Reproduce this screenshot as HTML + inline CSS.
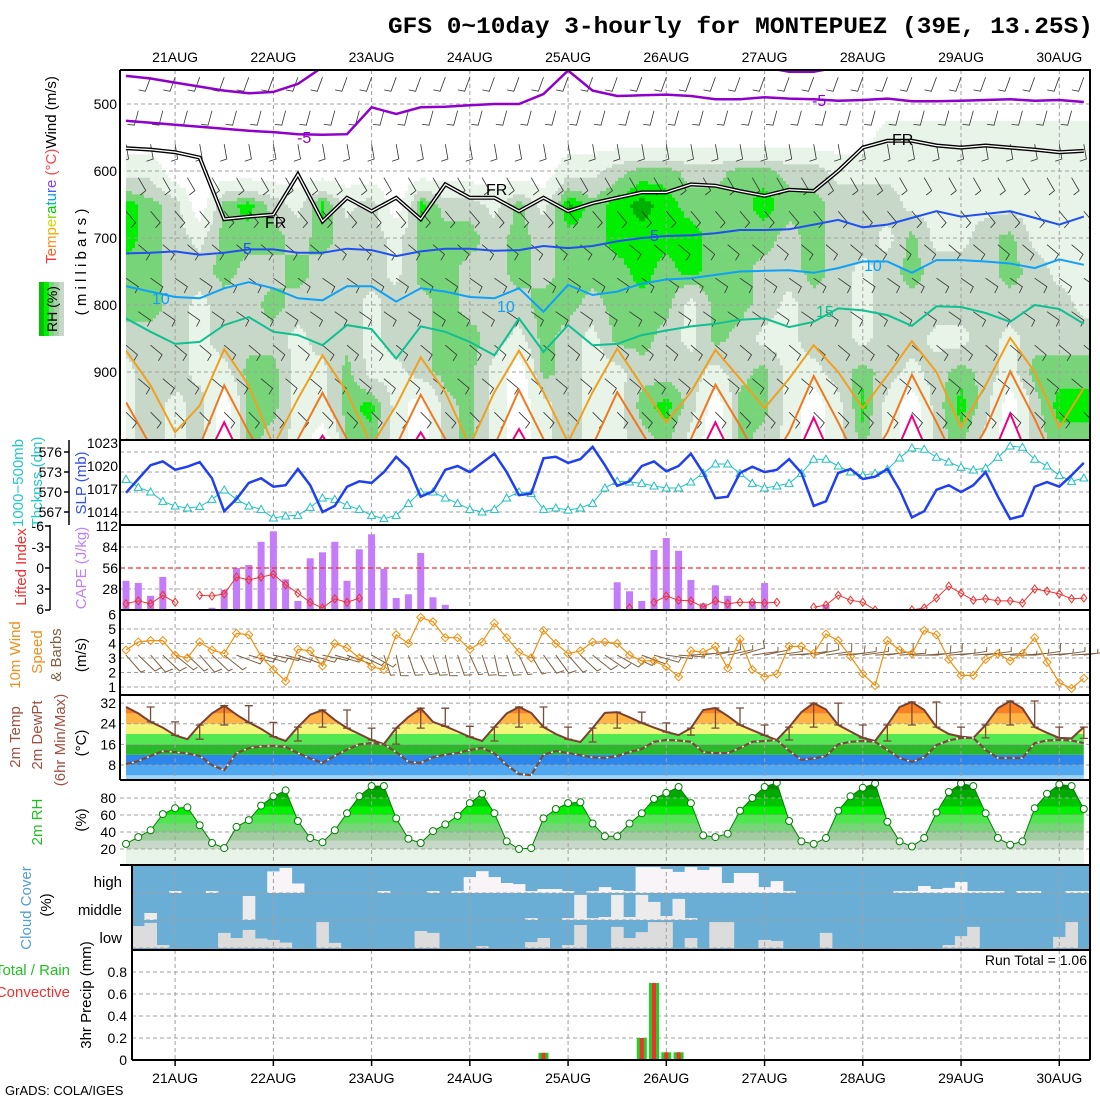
<!DOCTYPE html>
<html><head><meta charset="utf-8"><title>GFS meteogram MONTEPUEZ</title>
<style>html,body{margin:0;padding:0;background:#fff}svg{display:block}text{font-family:"Liberation Sans",sans-serif}</style>
</head><body>
<svg id="chart" xmlns="http://www.w3.org/2000/svg" width="1100" height="1100" viewBox="0 0 1100 1100">
<rect x="0" y="0" width="1100" height="1100" fill="#fff"/>
<text x="388" y="33" textLength="705" lengthAdjust="spacingAndGlyphs" style="font-family:'Liberation Mono',monospace;font-size:23px;font-weight:bold">GFS 0~10day 3-hourly for MONTEPUEZ (39E, 13.25S)</text>
<g id="lbl" font-size="15">
<text transform="translate(56,170) rotate(-90)" text-anchor="middle"><tspan fill="#ff3030">T</tspan><tspan fill="#ff6020">e</tspan><tspan fill="#ff9020">m</tspan><tspan fill="#f0b000">p</tspan><tspan fill="#d8d800">e</tspan><tspan fill="#80d800">r</tspan><tspan fill="#00c800">a</tspan><tspan fill="#00c0a0">t</tspan><tspan fill="#00a0e0">u</tspan><tspan fill="#4060ff">r</tspan><tspan fill="#8040ff">e</tspan><tspan fill="#ff4040"> (°C)</tspan><tspan fill="#000">Wind (m/s)</tspan></text>
<g><rect x="39" y="282" width="5" height="54" fill="#00c000"/><rect x="44" y="282" width="5" height="54" fill="#00f000"/><rect x="49" y="282" width="5" height="54" fill="#78d878"/><rect x="54" y="282" width="5" height="54" fill="#a8d0a8"/><rect x="59" y="282" width="5" height="54" fill="#c8d8c8"/>
<text transform="translate(57,309) rotate(-90)" text-anchor="middle" font-size="14">RH (%)</text></g>
<text transform="translate(86,262) rotate(-90)" text-anchor="middle">( m i l l i b a r s )</text>
<text transform="translate(23,483) rotate(-90)" text-anchor="middle" fill="#20c8c8">1000−500mb</text>
<text transform="translate(42,482) rotate(-90)" text-anchor="middle" fill="#20c8c8">Thcknss (dm)</text>
<text transform="translate(86,483) rotate(-90)" text-anchor="middle" fill="#3050f0">SLP (mb)</text>
<text transform="translate(26,567) rotate(-90)" text-anchor="middle" fill="#f03030">Lifted Index</text>
<text transform="translate(86,568) rotate(-90)" text-anchor="middle" fill="#c080f8">CAPE (J/kg)</text>
<text transform="translate(20,655) rotate(-90)" text-anchor="middle" fill="#f09020">10m Wind</text>
<text transform="translate(42,652) rotate(-90)" text-anchor="middle" fill="#f09020">Speed</text>
<text transform="translate(61,655) rotate(-90)" text-anchor="middle" fill="#806040">&amp; Barbs</text>
<text transform="translate(86,655) rotate(-90)" text-anchor="middle">(m/s)</text>
<text transform="translate(20,737) rotate(-90)" text-anchor="middle" fill="#a05040">2m Temp</text>
<text transform="translate(42,735) rotate(-90)" text-anchor="middle" fill="#a05040">2m DewPt</text>
<text transform="translate(65,740) rotate(-90)" text-anchor="middle" fill="#a05040">(6hr Min/Max)</text>
<text transform="translate(86,743) rotate(-90)" text-anchor="middle">(°C)</text>
<text transform="translate(42,822) rotate(-90)" text-anchor="middle" fill="#20c020">2m RH</text>
<text transform="translate(86,820) rotate(-90)" text-anchor="middle">(%)</text>
<text transform="translate(31,908) rotate(-90)" text-anchor="middle" fill="#50a0d0">Cloud Cover</text>
<text transform="translate(51,905) rotate(-90)" text-anchor="middle">(%)</text>
<text x="122" y="887" text-anchor="end">high</text>
<text x="122" y="915" text-anchor="end">middle</text>
<text x="122" y="943" text-anchor="end">low</text>
<text x="70" y="975" text-anchor="end" fill="#20c020">Total / Rain</text>
<text x="70" y="997" text-anchor="end" fill="#f03030">Convective</text>
<text transform="translate(91,995) rotate(-90)" text-anchor="middle">3hr Precip (mm)</text>
<text x="1087" y="965" text-anchor="end" font-size="14">Run Total = 1.06</text>
<text x="5" y="1095" font-size="13">GrADS: COLA/IGES</text>
</g>
<defs><clipPath id="cpU"><rect x="126" y="70" width="964" height="370"/></clipPath>
<clipPath id="cp3"><rect x="120" y="525" width="970" height="85"/></clipPath></defs>
</svg>
<script>
// ---------- data ----------
const dayLabels=['21AUG','22AUG','23AUG','24AUG','25AUG','26AUG','27AUG','28AUG','29AUG','30AUG'];
const slp=[1016.5,1018.3,1020.1,1020.6,1019.5,1019.9,1020.5,1018.4,1014.1,1015.7,1017.8,1018.4,1017.3,1017.5,1019.6,1017.5,1014.0,1014.8,1017.3,1018.0,1017.8,1019.2,1021.2,1019.7,1016.0,1016.7,1019.5,1020.0,1019.2,1020.4,1021.6,1019.2,1016.2,1016.4,1021.0,1021.2,1020.4,1020.9,1022.5,1020.1,1017.4,1018.0,1020.0,1020.6,1019.3,1020.0,1021.6,1019.1,1015.8,1016.0,1019.1,1019.9,1019.2,1019.5,1020.9,1019.1,1014.8,1015.4,1019.1,1019.6,1018.3,1018.6,1019.6,1016.9,1013.3,1014.1,1016.9,1017.5,1016.6,1017.5,1019.2,1016.0,1013.1,1013.5,1017.3,1017.9,1017.3,1018.8,1020.4];
const thickness=[571.9,570.7,570.0,568.6,567.9,567.6,567.8,568.9,570.3,568.9,567.9,567.4,566.1,566.4,566.5,567.7,569.1,568.9,568.0,567.4,566.5,566.0,566.5,568.3,570.0,570.0,569.1,568.3,567.4,567.0,567.4,569.1,570.0,569.8,567.4,567.6,567.3,567.6,568.3,570.6,571.6,571.5,571.3,570.9,570.6,570.6,571.5,572.8,574.2,574.2,572.8,571.3,570.6,570.9,571.3,572.8,574.9,574.9,573.9,573.0,572.5,572.8,573.4,575.1,576.6,576.4,575.2,574.5,573.7,573.3,573.6,575.2,576.9,576.7,574.9,573.9,572.5,571.6,572.1];
const cape=[39,36,19,44,0,0,0,3,27,56,60,91,105,41,12,69,77,91,39,81,101,55,16,21,76,17,7,0,0,0,0,0,0,0,0,0,0,0,0,0,37,25,12,80,96,79,40,9,33,19,0,12,36,0,0,0,0,7,0,0,0,0,0,0,0,0,0,0,0,0,0,0,0,0,0,0,0,0,0];
const liftedIndex=[5.1,4.7,5.1,3.9,4.9,null,3.9,4.0,3.7,1.3,1.7,1.3,0.9,2.4,3.6,4.9,5.7,4.4,4.9,4.3,null,null,null,null,null,null,null,null,null,null,null,null,null,null,null,null,null,null,null,null,null,5.7,null,4.9,4.0,4.6,4.7,5.6,4.7,5.1,4.9,4.9,5.0,4.9,null,null,5.6,5.3,3.9,4.6,4.9,6.0,null,null,6.0,5.7,4.3,2.6,3.6,4.6,4.4,4.7,4.7,5.0,3.0,3.3,3.7,4.4,4.3];
const windSpeed=[3.55,4.1,4.2,4.2,3.2,3.0,4.1,3.55,3.3,4.7,4.6,3.1,2.2,1.4,3.6,3.5,2.45,4.0,3.7,3.0,2.4,2.2,4.6,4.0,5.8,5.5,4.4,4.4,3.6,4.1,5.4,4.4,3.4,3.0,4.9,4.0,3.3,3.5,4.1,4.1,4.0,3.2,2.8,2.8,2.4,1.7,3.5,3.4,3.8,2.3,4.3,2.2,1.7,1.9,3.8,3.8,3.3,4.65,4.2,3.1,1.9,1.1,4.2,3.55,3.3,4.9,4.6,2.9,1.8,1.8,2.9,3.3,2.8,3.3,4.4,2.7,1.3,0.9,1.6];
const windDir=[145,140,145,140,135,140,145,140,135,115,110,110,105,110,115,110,105,110,115,120,125,165,170,165,160,165,170,165,160,165,170,165,160,155,150,150,145,140,135,130,125,120,115,110,100,95,85,80,75,75,70,80,75,80,85,80,75,80,85,80,80,85,80,85,90,85,80,85,80,85,80,85,90,85,80,85,80,85,80];
const temp2m=[30.5,28,24.7,22.5,19.5,18,23.5,28,31,27.5,24.5,22,19,17.3,22.7,27.5,29.3,25.5,22.3,20,17.7,16.1,22.3,26.6,30,24.7,23,21,18.9,17.3,22.7,28,30.5,28.2,22.7,20,18,16.9,22.3,28.2,28.5,26.5,24.3,22.5,20.8,19.6,22.3,29.3,30.1,27,23.5,21.5,19.5,17.7,22.7,28.5,32,29.5,23.5,21,18.5,17.3,23.5,30.5,32.4,29.3,22.7,20,19,18.5,23.5,30,32.8,30,22.7,20.5,18.5,18.3,22.7];
const dewpt2m=[8.4,9.5,11.5,13.4,13,12.5,11.5,8,6,12.6,14.5,15.2,15.4,15,12.6,10.5,8.8,11.5,14,16,16.5,16,13,9.2,8.8,11,12,12.6,13.8,14.6,12.5,8,4.5,4.1,12,13.4,12.6,11.8,11,10.7,11.5,13,14.2,17,17.7,17.5,17,13,12.6,12.6,14.6,17,17.3,17.7,13.5,10,10.5,11.5,16,17,17.3,17,13.8,10.7,9.2,11,15.7,17.5,18.5,18.5,13.8,10.7,10.7,10.7,16.5,17.5,17.7,17.5,16.5];
const rh2m=[26,34,42,61,68,69,48,27,21,46,54,71,82,89,53,33,28,42,62,82,94,94,56,32,27,41,49,59,74,85,62,29,20,21,56,67,74,75,50,35,35,50,62,79,86,93,74,36,34,38,65,80,93,98,53,29,26,33,65,82,92,97,52,29,23,33,63,87,97,94,62,33,25,29,68,85,96,94,67];
const cloudLow=[81,81,93,11,0,0,0,0,56,37,67,35,30,20,0,0,96,19,0,0,0,0,0,0,63,56,0,0,0,7,0,0,0,22,37,0,11,85,0,0,78,37,59,96,96,0,37,0,96,96,0,0,30,26,0,0,0,56,0,0,0,0,0,0,0,0,0,11,44,78,0,0,0,0,0,0,41,96,0];
const cloudMid=[0,0,26,0,0,0,0,0,0,0,89,0,0,0,0,0,0,0,0,0,0,0,0,0,0,0,0,0,0,0,0,0,0,7,0,0,7,93,7,11,93,11,93,67,15,78,7,0,0,0,0,0,0,0,0,0,0,0,0,0,0,0,0,0,0,0,0,0,0,0,0,0,0,0,0,0,0,0,0];
const cloudHigh=[0,0,0,0,7,0,0,7,0,0,0,0,80,93,35,0,0,0,0,0,0,7,0,0,0,7,0,7,59,81,59,37,33,7,15,15,7,0,7,22,11,7,96,96,89,78,96,85,96,37,74,74,22,44,7,0,0,0,0,0,0,0,0,7,7,26,15,19,41,7,7,7,0,7,7,0,0,7,7];
const precipTotal=[0,0,0,0,0,0,0,0,0,0,0,0,0,0,0,0,0,0,0,0,0,0,0,0,0,0,0,0,0,0,0,0,0,0,0.065,0,0,0,0,0,0,0,0.2,0.7,0.07,0.07,0,0,0,0,0,0,0,0,0,0,0,0,0,0,0,0,0,0,0,0,0,0,0,0,0,0,0,0,0,0,0,0,0];
const precipConv=[0,0,0,0,0,0,0,0,0,0,0,0,0,0,0,0,0,0,0,0,0,0,0,0,0,0,0,0,0,0,0,0,0,0,0.065,0,0,0,0,0,0,0,0.2,0.7,0.07,0.07,0,0,0,0,0,0,0,0,0,0,0,0,0,0,0,0,0,0,0,0,0,0,0,0,0,0,0,0,0,0,0,0,0];
const levels=[450,500,550,600,650,700,750,800,850,900,950,1000];
const rh450=[30,30,30,30,30,30,30,30,30,30,30,30,30,30,30,30,30,30,30,30,30,30,30,30,30,30,30,30,30,30,30,30,30,30,30,30,30,30,30,30];
const rh500=[30,30,30,30,30,30,30,30,30,30,30,30,30,30,30,30,30,30,30,30,30,30,30,30,30,30,30,30,30,30,30,30,30,30,30,30,30,30,30,30];
const rh550=[30,30,30,30,30,30,30,30,30,30,30,30,30,30,30,30,30,30,30,30,30,30,30,30,30,30,30,30,30,30,30,60,60,60,60,60,60,60,60,60];
const rh600=[60,60,30,30,30,30,30,30,30,30,30,30,30,30,30,30,30,30,60,60,75,85,85,75,75,85,85,75,75,60,60,60,60,60,60,60,60,60,60,60];
const rh650=[93,85,75,30,85,93,75,60,93,60,75,30,93,75,75,60,85,60,98,85,93,98,93,85,85,85,93,85,85,75,75,75,60,60,60,60,60,60,60,60];
const rh700=[93,85,75,60,85,85,85,75,85,75,75,60,85,85,85,75,85,75,85,85,93,93,93,93,85,85,85,75,85,75,75,60,85,60,60,75,85,60,60,60];
const rh750=[85,85,75,75,85,75,75,85,75,75,75,60,85,85,75,75,85,75,85,85,85,93,85,93,85,85,75,75,85,75,60,75,85,75,75,75,85,75,60,60];
const rh800=[85,85,75,60,75,75,85,75,75,75,60,75,75,85,75,75,75,85,85,75,85,85,85,60,85,85,75,60,75,75,60,75,75,75,75,75,75,75,75,60];
const rh850=[75,75,75,60,75,75,75,60,75,75,60,75,75,85,85,75,60,85,75,60,85,85,75,60,85,75,60,60,75,75,60,75,75,60,60,75,60,75,75,75];
const rh900=[60,75,75,60,60,85,85,60,60,85,60,60,75,85,85,60,30,85,75,60,60,75,75,75,60,75,85,60,60,75,85,75,60,75,85,75,60,85,85,85];
const rh950=[60,75,60,75,30,85,85,60,60,85,93,60,30,75,85,60,30,60,75,60,60,85,93,75,30,85,85,60,30,60,93,60,30,75,93,75,30,75,93,93];
const rh1000=[60,75,60,75,30,85,75,60,30,85,85,60,30,75,85,60,30,60,75,60,60,75,85,60,30,85,75,60,30,60,85,60,30,75,85,60,30,75,85,85];
const isoM10=[458,462,468,474,480,484,482,470,445,440,440,440,440,440,440,440,440,440,440,440,440,440,440,440,440,440,445,452,452,445,440,440,440,440,440,440,440,440,440,440];
const isoM5=[525,528,531,534,537,540,542,545,546,545,505,515,505,504,502,500,500,485,450,480,488,487,486,488,493,493,490,492,493,495,494,492,496,496,495,494,493,495,494,497];
const iso0=[566,568,572,580,672,668,665,605,675,640,660,640,672,620,640,640,660,640,660,648,640,632,632,620,622,630,637,628,630,600,565,555,555,562,565,562,565,568,572,570];
const iso5=[723,722,720,725,722,717,717,722,722,716,718,727,720,716,716,719,718,712,715,712,705,700,697,696,693,688,688,687,680,673,684,680,670,660,668,664,660,670,680,668];
const iso10=[772,780,788,790,775,766,775,790,793,772,772,795,775,780,788,790,775,810,770,785,780,768,762,760,755,750,749,748,752,745,735,735,752,733,733,735,738,745,732,740];
const iso15=[820,840,858,855,830,818,840,845,860,830,836,880,832,840,855,875,820,870,830,860,858,845,838,832,828,822,820,833,825,805,808,815,831,802,803,812,825,800,806,828];
const iso20=[868,920,990,950,866,920,1010,940,875,930,1010,950,878,930,1010,930,868,930,1005,930,865,920,975,930,867,910,954,910,860,900,954,905,854,900,983,920,849,900,983,924];
const iso25=[945,1010,1050,1010,920,990,1050,1000,931,1000,1050,1010,934,1000,1050,1010,927,1000,1050,1010,930,990,1050,1000,919,980,1050,990,906,975,1050,990,904,975,1050,985,899,970,1050,1000];
const iso30=[1000,1050,1050,1050,975,1050,1050,1050,995,1050,1050,1050,990,1050,1050,1050,985,1050,1050,1050,1050,1050,1050,1050,975,1050,1050,1050,968,1050,1050,1050,965,1050,1050,1050,962,1050,1050,1050];
const barbLevels=[460,510,560,610,660,710,760,810,860,910,960];
const barbLevelDir=[200,195,170,150,140,130,125,125,130,130,135];

// ---------- scales ----------
const NS='http://www.w3.org/2000/svg';
const svg=document.getElementById('chart');
function add(tag,attrs,parent){const e=document.createElementNS(NS,tag);for(const k in attrs)e.setAttribute(k,attrs[k]);(parent||svg).appendChild(e);return e;}
const xs=s=>126+s*12.28;
const xc=c=>xs(2*c);
const yP=p=>104+(p-500)*0.67;
const ySlp=m=>512-(m-1014)*7.67;
const yThk=d=>512-(d-567)*6.67;
const yCape=c=>610-c*0.75;
const yLI=l=>568+l*7;
const yWs=v=>687-(v-1)*14.5;
const yT=t=>765-(t-8)*2.58;
const yRH=r=>849-(r-20)*0.85;
const yPr=v=>1060-v*110;
const N=slp.length;
const dash={stroke:'#a0a0a0','stroke-width':1,'stroke-dasharray':'4,3',fill:'none'};
function grid(parent,x0,y0,x1,y1,hs){
  let d='';
  for(let k=0;k<dayLabels.length;k++){const x=xs(4+8*k);d+=`M${x.toFixed(1)} ${y0}V${y1}`;}
  hs.forEach(y=>{d+=`M${x0} ${y.toFixed(1)}H${x1}`;});
  const g=add('path',Object.assign({d:d},dash),parent);
  
  
}
function polyPath(arr,fx,fy){let d='',pen=false;arr.forEach((v,i)=>{if(v===null){pen=false;return;}d+=(pen?'L':'M')+fx(i).toFixed(1)+' '+fy(v).toFixed(1);pen=true;});return d;}

// ---------- upper air panel ----------
const gU=add('g',{'clip-path':'url(#cpU)'});


const rhRows=[rh450,rh500,rh550,rh600,rh650,rh700,rh750,rh800,rh850,rh900,rh950,rh1000];
function rhAt(xx,p){let fc=(xx-126)/24.56;fc=Math.max(0,Math.min(39,fc));let fr=(p-450)/50;fr=Math.max(0,Math.min(11,fr));
  const c0=Math.min(38,Math.floor(fc)),r0=Math.min(10,Math.floor(fr)),tx=fc-c0,ty=fr-r0;
  const a=rhRows[r0][c0],b=rhRows[r0][c0+1],c=rhRows[r0+1][c0],d=rhRows[r0+1][c0+1];
  return a*(1-tx)*(1-ty)+b*tx*(1-ty)+c*(1-tx)*ty+d*tx*ty;}
function rhColor(v){if(v<45)return null;if(v<66)return '#e8f4e8';if(v<80)return '#c8d8c8';if(v<89)return '#78d478';if(v<95.5)return '#00ee00';return '#00b000';}
for(let p=450;p<1000;p+=5){
  let runStart=126,runCol=rhColor(rhAt(127.5,p+2.5));
  for(let x=129;x<=1093;x+=3){
    const col=x>=1090?'END':rhColor(rhAt(x+1.5,p+2.5));
    if(col!==runCol){
      if(runCol){const r=add('rect',{x:runStart,y:yP(p).toFixed(1),width:x-runStart,height:(yP(p+5)-yP(p)+0.4).toFixed(1),fill:runCol},gU);
        
        }
      runStart=x;runCol=col==='END'?null:col;
    }
  }
}
grid(gU,120,70,1090,440,[500,600,700,800,900].map(yP));
(function(){let d='';
  barbLevels.forEach((lv,i)=>{for(let s=(i%2);s<N;s+=2){
    const a=barbLevelDir[i]*Math.PI/180,x=xs(s),y=yP(lv);
    const ex=x+Math.sin(a)*15,ey=y-Math.cos(a)*15;
    const fx=ex+Math.sin(a+Math.PI/2.2)*7,fy=ey-Math.cos(a+Math.PI/2.2)*7;
    d+=`M${x.toFixed(1)} ${y.toFixed(1)}L${ex.toFixed(1)} ${ey.toFixed(1)}L${fx.toFixed(1)} ${fy.toFixed(1)}`;}});
  const b=add('path',{d:d,stroke:'#333','stroke-width':0.8,fill:'none'},gU);
  
  
})();
const isos=[[isoM10,'#9000c8',2.5,'isotherm-minus10'],[isoM5,'#9000c8',2.5,'isotherm-minus5'],[iso5,'#2050f0',2,'isotherm-5'],[iso10,'#10a0f8',2,'isotherm-10'],[iso15,'#10c090',2,'isotherm-15'],[iso20,'#f0a020',2,'isotherm-20'],[iso25,'#f07820',2,'isotherm-25'],[iso30,'#f00080',2,'isotherm-30']];
isos.forEach(q=>{const e=add('path',{d:polyPath(q[0],xc,yP),stroke:q[1],'stroke-width':q[2],fill:'none'},gU);
  
  });
const fr1=add('path',{d:polyPath(iso0,xc,yP),stroke:'#000','stroke-width':4,fill:'none'},gU);


const fr2=add('path',{d:polyPath(iso0,xc,yP),stroke:'#fff','stroke-width':1.3,fill:'none'},gU);


[['-5',297,143,'#9000c8'],['-5',812,106,'#9000c8'],['5',243,254,'#2050f0'],['5',650,241,'#2050f0'],['10',152,304,'#10a0f8'],['10',497,312,'#10a0f8'],['10',864,271,'#10a0f8'],['15',816,317,'#10c090'],['FR',265,228,'#000'],['FR',486,195,'#000'],['FR',892,145,'#000']].forEach(t=>{
  const e=add('text',{x:t[1],y:t[2],fill:t[3],'font-size':16},gU);e.textContent=t[0];
  
  });
[500,600,700,800,900].forEach(p=>{const e=add('text',{x:117,y:yP(p)+5,'text-anchor':'end','font-size':14});e.textContent=p;
  
  });

// ---------- SLP / thickness ----------
const g2=add('g',{});


grid(g2,120,440,1090,525,[576,573,570,567].map(yThk));
const thkLine=add('path',{d:polyPath(thickness,xs,yThk),stroke:'#20c0c0','stroke-width':1,fill:'none'},g2);


thickness.forEach((v,i)=>{const x=xs(i),y=yThk(v);const m=add('path',{d:`M${x-4} ${y+3}L${x} ${y-4}L${x+4} ${y+3}Z`,fill:'#fff',stroke:'#20c0c0','stroke-width':1},g2);
  
  });
const slpLine=add('path',{d:polyPath(slp,xs,ySlp),stroke:'#2040f0','stroke-width':2.5,fill:'none'},g2);


const thkAxis=add('path',{d:'M69 440V525'+[576,573,570,567].map(v=>`M64 ${yThk(v).toFixed(1)}H69`).join(''),stroke:'#000','stroke-width':1.5,fill:'none'});


[576,573,570,567].forEach(v=>{const e=add('text',{x:62,y:yThk(v)+5,'text-anchor':'end','font-size':14});e.textContent=v;
  
  });
[1023,1020,1017,1014].forEach(v=>{const e=add('text',{x:118,y:ySlp(v)+5,'text-anchor':'end','font-size':14});e.textContent=v;
  
  });

// ---------- CAPE / LI ----------
const g3=add('g',{'clip-path':'url(#cp3)'});


grid(g3,120,525,1090,610,[84,28].map(yCape));
cape.forEach((v,i)=>{if(v<=0)return;const b=add('rect',{x:(xs(i)-3.5).toFixed(1),y:yCape(v).toFixed(1),width:7,height:(610-yCape(v)).toFixed(1),fill:'#c47cf8'},g3);
  
  });
const zero=add('path',{d:`M120 ${yLI(0)}H1090`,stroke:'#f03030','stroke-width':1.2,'stroke-dasharray':'5,3'},g3);


const liLine=add('path',{d:polyPath(liftedIndex,xs,yLI),stroke:'#f03030','stroke-width':1,fill:'none'},g3);


liftedIndex.forEach((v,i)=>{if(v===null)return;const x=xs(i),y=yLI(v);const m=add('path',{d:`M${x} ${y-4}L${x+3} ${y}L${x} ${y+4}L${x-3} ${y}Z`,fill:'none',stroke:'#f03030','stroke-width':1},g3);
  
  });
const liAxis=add('path',{d:'M50 525V610'+[-6,-3,0,3,6].map(v=>`M45 ${yLI(v)}H50`).join(''),stroke:'#000','stroke-width':1.5,fill:'none'});


[-6,-3,0,3,6].forEach(v=>{const e=add('text',{x:44,y:Math.min(yLI(v)+5,614),'text-anchor':'end','font-size':14});e.textContent=v;
  
  });
[112,84,56,28].forEach(v=>{const e=add('text',{x:118,y:yCape(v)+5,'text-anchor':'end','font-size':14});e.textContent=v;
  
  });

// ---------- wind ----------
const g4=add('g',{});


grid(g4,120,610,1090,695,[1,2,3,4,5].map(yWs));
(function(){let d='';windDir.forEach((dir,i)=>{const a=dir*Math.PI/180,x=xs(i),y=yWs(3.2);
  const ex=x+Math.sin(a)*26,ey=y-Math.cos(a)*26*0.8;const L=windSpeed[i]>=3.8?8:4.5;
  const fx=ex+Math.sin(a-Math.PI/2.3)*L,fy=ey-Math.cos(a-Math.PI/2.3)*L;
  d+=`M${x.toFixed(1)} ${y.toFixed(1)}L${ex.toFixed(1)} ${ey.toFixed(1)}L${fx.toFixed(1)} ${fy.toFixed(1)}`;});
  const b=add('path',{d:d,stroke:'#806040','stroke-width':1,fill:'none'},g4);
  
  })();
const wsLine=add('path',{d:polyPath(windSpeed,xs,yWs),stroke:'#f09010','stroke-width':1.2,fill:'none'},g4);


windSpeed.forEach((v,i)=>{const x=xs(i),y=yWs(v);const m=add('path',{d:`M${x} ${y-4}L${x+4} ${y}L${x} ${y+4}L${x-4} ${y}Z`,fill:'none',stroke:'#f09010','stroke-width':1},g4);
  
  });
[6,5,4,3,2,1].forEach(v=>{const e=add('text',{x:116,y:yWs(v)+5,'text-anchor':'end','font-size':14});e.textContent=v;
  
  });

// ---------- temperature ----------
const g5=add('g',{});


const defs=svg.querySelector('defs');
const cpT=add('clipPath',{id:'cpT'},defs);
const cpTp=add('path',{d:`M${xs(0)} 780`+temp2m.map((v,i)=>`L${xs(i).toFixed(1)} ${yT(v).toFixed(1)}`).join('')+`L${xs(N-1).toFixed(1)} 780Z`},cpT);


const gTf=add('g',{'clip-path':'url(#cpT)'},g5);


[[-10,4,'#9ed4f8'],[4,8,'#50a8f0'],[8,12,'#2c86ec'],[12,16,'#2ab82a'],[16,20,'#52e852'],[20,24,'#f4f67c'],[24,28,'#ffb444'],[28,32,'#fa8222'],[32,45,'#e8580c']].forEach(b=>{
  const r=add('rect',{x:126,y:yT(b[1]).toFixed(1),width:964,height:(yT(b[0])-yT(b[1])).toFixed(1),fill:b[2]},gTf);
  
  });
grid(g5,120,695,1090,780,[32,24,16,8].map(yT));
(function(){let d='';for(let s=2;s<N;s+=2){const w=[temp2m[s-2],temp2m[s-1],temp2m[s]];const hi=Math.max(...w),lo=Math.min(...w),x=xs(s);
  d+=`M${x-4} ${yT(hi).toFixed(1)}H${x+4}M${x} ${yT(hi).toFixed(1)}V${yT(lo).toFixed(1)}M${x-4} ${yT(lo).toFixed(1)}H${x+4}`;}
  const e=add('path',{d:d,stroke:'#7a4a3a','stroke-width':1.3,fill:'none'},g5);
  
  })();
const tLine=add('path',{d:polyPath(temp2m,xs,yT),stroke:'#7a4030','stroke-width':2,fill:'none'},g5);


const tdUnder=add('path',{d:polyPath(dewpt2m,xs,yT),stroke:'#fff','stroke-width':1.2,fill:'none'},g5);


const tdLine=add('path',{d:polyPath(dewpt2m,xs,yT),stroke:'#7a4a3a','stroke-width':2.2,'stroke-dasharray':'6,2',fill:'none'},g5);


[32,24,16,8].forEach(v=>{const e=add('text',{x:116,y:yT(v)+5,'text-anchor':'end','font-size':14});e.textContent=v;
  
  });

// ---------- RH ----------
const g6=add('g',{});


const cpR=add('clipPath',{id:'cpR'},defs);
const cpRp=add('path',{d:`M${xs(0)} 865`+rh2m.map((v,i)=>`L${xs(i).toFixed(1)} ${yRH(v).toFixed(1)}`).join('')+`L${xs(N-1).toFixed(1)} 865Z`},cpR);


const gRf=add('g',{'clip-path':'url(#cpR)'},g6);


[[0,20,'#e8f4e8'],[20,30,'#c8d8c8'],[30,40,'#a0cca0'],[40,50,'#78d478'],[50,60,'#50e650'],[60,70,'#00f000'],[70,80,'#00c400'],[80,90,'#00aa00'],[90,110,'#008a00']].forEach(b=>{
  const r=add('rect',{x:126,y:yRH(b[1]).toFixed(1),width:964,height:(yRH(b[0])-yRH(b[1])).toFixed(1),fill:b[2]},gRf);
  
  });
grid(g6,120,780,1090,865,[80,60,40,20].map(yRH));
const rhLine=add('path',{d:polyPath(rh2m,xs,yRH),stroke:'#008000','stroke-width':1,fill:'none'},g6);


rh2m.forEach((v,i)=>{const c=add('circle',{cx:xs(i).toFixed(1),cy:yRH(v).toFixed(1),r:3.5,fill:'#fff',stroke:'#008000','stroke-width':1},g6);
  
  });
[80,60,40,20].forEach(v=>{const e=add('text',{x:116,y:yRH(v)+5,'text-anchor':'end','font-size':14});e.textContent=v;
  
  });

// ---------- cloud ----------
const g7=add('g',{});


const cbg=add('rect',{x:132,y:865,width:958,height:85,fill:'#6aaed6'},g7);


[[cloudHigh,893,'#f8f4f8','cloud-high-bar'],[cloudMid,920,'#ececec','cloud-mid-bar'],[cloudLow,948,'#dcdcdc','cloud-low-bar']].forEach(L=>{
  L[0].forEach((v,i)=>{if(v<=0)return;let x0=xs(i)-6.14,x1=xs(i)+6.14;x0=Math.max(132,x0);x1=Math.min(1090,x1);if(x1<=x0)return;
    const r=add('rect',{x:x0.toFixed(1),y:(L[1]-v*0.27).toFixed(1),width:(x1-x0+0.3).toFixed(1),height:(v*0.27).toFixed(1),fill:L[2]},g7);
    
    });});
grid(g7,132,865,1090,950,[893,920,948]);

// ---------- precip ----------
const g8=add('g',{});


grid(g8,132,950,1090,1060,[0.2,0.4,0.6,0.8].map(yPr));
precipTotal.forEach((v,i)=>{if(v<=0)return;const r=add('rect',{x:(xs(i)-5).toFixed(1),y:yPr(v).toFixed(1),width:10,height:(1060-yPr(v)).toFixed(1),fill:'#20d020'},g8);
  
  });
precipConv.forEach((v,i)=>{if(v<=0)return;const r=add('rect',{x:(xs(i)-2).toFixed(1),y:yPr(v).toFixed(1),width:4,height:(1060-yPr(v)).toFixed(1),fill:'#f03030'},g8);
  
  });
[0.8,0.6,0.4,0.2,0].forEach(v=>{const e=add('text',{x:127,y:yPr(v)+5,'text-anchor':'end','font-size':14});e.textContent=v;
  
  });

// ---------- frames & date labels ----------
const frame=add('path',{d:'M120 70H1090V695M120 70V780M120 440H1090M120 525H1090M120 610H1090M120 695H1090M120 780H1090M1090 695V1060M120 865H1090M132 865V1060M132 950H1090M132 1060H1090',stroke:'#000','stroke-width':2,fill:'none'});


dayLabels.forEach((t,k)=>{const x=xs(4+8*k);
  const a=add('text',{x:x,y:62,'text-anchor':'middle','font-size':14});a.textContent=t;
  
  
  const b=add('text',{x:x,y:1083,'text-anchor':'middle','font-size':14});b.textContent=t;
  
  
  const tk=add('path',{d:`M${x} 1060V1066`,stroke:'#000','stroke-width':1.5});
  
  });
</script>
</body></html>
